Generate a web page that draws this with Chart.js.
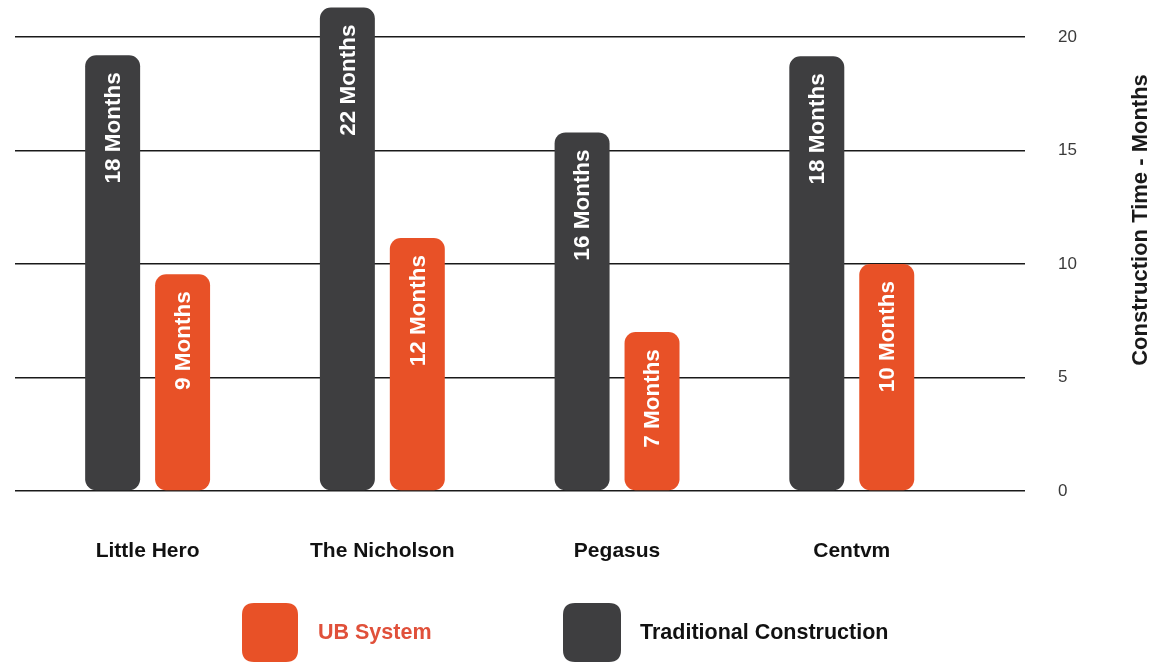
<!DOCTYPE html>
<html>
<head>
<meta charset="utf-8">
<script src="https://cdn.jsdelivr.net/npm/chart.js@4.4.1/dist/chart.umd.min.js"></script>
<style>
  html, body { margin: 0; padding: 0; background: #ffffff; }
  #wrap { width: 1156px; height: 663px; position: relative; }
</style>
</head>
<body>
<div id="wrap"><canvas id="c"></canvas></div>
<script>
// ---- data ----
const categories = ['Little Hero', 'The Nicholson', 'Pegasus', 'Centvm'];
const traditional = [19.2, 21.3, 15.8, 19.15];
const ubSystem = [9.55, 11.15, 7.0, 10.0];
const traditionalLabels = ['18 Months', '22 Months', '16 Months', '18 Months'];
const ubLabels = ['9 Months', '12 Months', '7 Months', '10 Months'];
const yTicks = [0, 5, 10, 15, 20];
const axisTitle = 'Construction Time - Months';

const FONT = '"Liberation Sans", Arial, Helvetica, sans-serif';
const DARK = '#3e3e40';
const ORANGE = '#e85127';

const valueLabelPlugin = {
  id: 'valueLabels',
  afterDatasetsDraw(chart) {
    const ctx = chart.ctx;
    chart.data.datasets.forEach((ds, di) => {
      const meta = chart.getDatasetMeta(di);
      meta.data.forEach((bar, i) => {
        const txt = ds.valueLabels[i];
        ctx.save();
        ctx.translate(bar.x, bar.y + 17);
        ctx.rotate(-Math.PI / 2);
        ctx.font = 'bold 22.5px ' + FONT;
        ctx.fillStyle = '#ffffff';
        ctx.textAlign = 'right';
        ctx.textBaseline = 'middle';
        ctx.fillText(txt, 0, 1);
        ctx.restore();
      });
    });
  }
};

function roundRect(ctx, x, y, w, h, r) {
  ctx.beginPath();
  ctx.moveTo(x + r, y);
  ctx.lineTo(x + w - r, y);
  ctx.quadraticCurveTo(x + w, y, x + w, y + r);
  ctx.lineTo(x + w, y + h - r);
  ctx.quadraticCurveTo(x + w, y + h, x + w - r, y + h);
  ctx.lineTo(x + r, y + h);
  ctx.quadraticCurveTo(x, y + h, x, y + h - r);
  ctx.lineTo(x, y + r);
  ctx.quadraticCurveTo(x, y, x + r, y);
  ctx.closePath();
}

const legendPlugin = {
  id: 'customLegend',
  afterDraw(chart) {
    const ctx = chart.ctx;
    const items = [
      { ds: chart.data.datasets[1], box: [242, 603, 56, 59], tx: 318, color: '#e0503a' },
      { ds: chart.data.datasets[0], box: [563, 603, 58, 59], tx: 640, color: '#111111' }
    ];
    items.forEach(it => {
      ctx.save();
      ctx.fillStyle = it.ds.backgroundColor;
      roundRect(ctx, it.box[0], it.box[1], it.box[2], it.box[3], 12);
      ctx.fill();
      ctx.font = 'bold 21.5px ' + FONT;
      ctx.fillStyle = it.color;
      ctx.textAlign = 'left';
      ctx.textBaseline = 'middle';
      ctx.fillText(it.ds.label, it.tx, 633);
      ctx.restore();
    });
  }
};

const titlePlugin = {
  id: 'axisTitle',
  afterDraw(chart) {
    const ctx = chart.ctx;
    ctx.save();
    ctx.translate(1141, 220);
    ctx.rotate(-Math.PI / 2);
    ctx.font = 'bold 22px ' + FONT;
    ctx.fillStyle = '#1a1a1a';
    ctx.textAlign = 'center';
    ctx.textBaseline = 'middle';
    ctx.fillText(axisTitle, 0, 0);
    ctx.restore();
  }
};

new Chart(document.getElementById('c'), {
  type: 'bar',
  data: {
    datasets: [
      {
        label: 'Traditional Construction',
        data: traditional.map((v, i) => ({ x: i, y: v })),
        backgroundColor: DARK,
        valueLabels: traditionalLabels
      },
      {
        label: 'UB System',
        data: ubSystem.map((v, i) => ({ x: i, y: v })),
        backgroundColor: ORANGE,
        valueLabels: ubLabels
      }
    ]
  },
  options: {
    responsive: true,
    maintainAspectRatio: false,
    animation: false,
    layout: { padding: { left: 15, top: 3, right: 0, bottom: 0 } },
    datasets: {
      bar: {
        categoryPercentage: 0.596,
        barPercentage: 0.786,
        borderRadius: 11,
        borderSkipped: false
      }
    },
    scales: {
      x: {
        type: 'linear',
        min: -0.565,
        max: 3.738,
        offset: false,
        grid: { display: false },
        border: { display: false },
        afterBuildTicks: s => { s.ticks = categories.map((c, i) => ({ value: i })); },
        afterFit: s => { s.height = 172; s.paddingLeft = 0; s.paddingRight = 0; },
        ticks: {
          callback: v => categories[v] ?? '',
          autoSkip: false,
          maxRotation: 0,
          padding: 40,
          color: '#111111',
          font: { family: FONT, size: 21, weight: 'bold' }
        }
      },
      y: {
        position: 'right',
        min: 0,
        max: 21.5,
        afterBuildTicks: s => { s.ticks = yTicks.map(v => ({ value: v })); },
        afterFit: s => { s.width = 131; s.paddingTop = 0; s.paddingBottom = 0; },
        grid: { color: '#1a1a1a', lineWidth: 1.5, drawTicks: false },
        border: { display: false },
        ticks: {
          padding: 33,
          color: '#3a3a3a',
          font: { family: FONT, size: 17 }
        }
      }
    },
    plugins: { legend: { display: false }, tooltip: { enabled: false } }
  },
  plugins: [valueLabelPlugin, legendPlugin, titlePlugin]
});
</script>
</body>
</html>
